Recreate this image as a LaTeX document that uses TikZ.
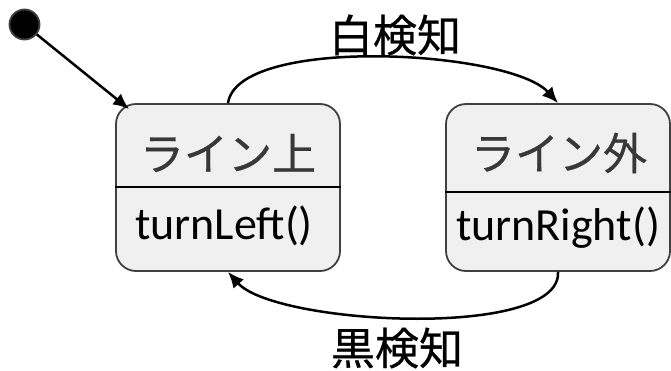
\documentclass[tikz,border=0pt]{standalone}
\usepackage{fontspec}
\setmainfont{Carlito}
\newfontfamily\jp[FakeBold=0.6]{Noto Sans CJK JP}
\usetikzlibrary{arrows.meta}
\definecolor{boxfill}{HTML}{F0F0F0}
\definecolor{boxdraw}{HTML}{404040}
\definecolor{jptext}{HTML}{383838}
\tikzset{
  statebox/.style={draw=boxdraw, line width=1.8pt, fill=boxfill, rounded corners=20pt, minimum width=224pt, minimum height=167pt, inner sep=0pt},
  jplabel/.style={font=\jp\fontsize{44}{48}\selectfont, inner sep=0pt},
  jpstate/.style={jplabel, text=jptext},
  method/.style={font=\fontsize{46}{50}\selectfont, inner sep=0pt},
  trans/.style={line width=2.5pt, -{Latex[length=16pt,width=14pt]}},
  divider/.style={line width=1.2pt, black}
}
\begin{document}
\begin{tikzpicture}[x=1pt,y=-1pt]
\useasboundingbox (0,0) rectangle (671,370);
\node[statebox] (L) at (228,187.5) {};
\node[statebox] (R) at (558,187.5) {};
\draw[divider] (L.west |- 0,187) -- (L.east |- 0,187);
\draw[divider] (R.west |- 0,192) -- (R.east |- 0,192);
\node[jpstate] (L1) at (228,153) {ライン上};
\node[method] (L2) at (224,226) {turnLeft()};
\node[jpstate] (R1) at (559,153) {ライン外};
\node[method] (R2) at (558,228) {turnRight()};
\node[circle, fill=black, draw=boxdraw, line width=1.8pt, minimum size=30pt, inner sep=0pt] (init) at (24.5,24.5) {};
\draw[trans] (init) -- ([xshift=14pt,yshift=-6pt]L.north west);
\draw[trans] (L.north) .. controls (238,35) and (510,50) .. (R.north);
\draw[trans] (R.south) .. controls (562,340) and (275,325) .. (L.south);
\node[jplabel] (top) at (395,35) {白検知};
\node[jplabel] (bot) at (397,348) {黒検知};
\end{tikzpicture}
\end{document}
